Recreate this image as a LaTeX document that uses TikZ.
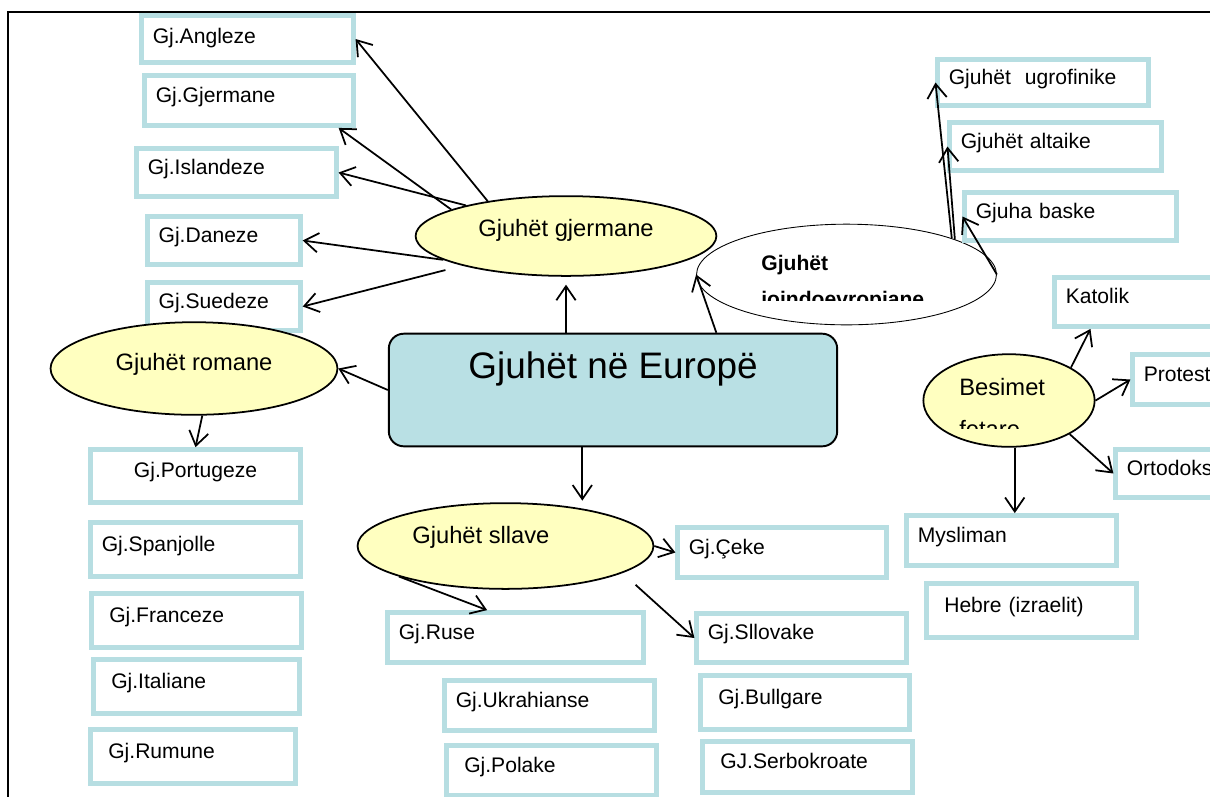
\documentclass[tikz,border=0pt]{standalone}
\usepackage{fontspec}
\setmainfont{Liberation Sans}
\usetikzlibrary{arrows.meta,shapes.geometric}

\definecolor{boxblue}{RGB}{183,222,226}
\definecolor{titleblue}{RGB}{185,224,228}
\definecolor{ovalyellow}{RGB}{255,255,192}

\begin{document}
\begin{tikzpicture}[x=0.02cm, y=-0.02cm,
    arrow/.style = {line width=1pt, -{Straight Barb[length=8pt,width=11pt]}},
    lang/.style = {draw=boxblue, line width=2.8pt, align=left, inner xsep=6.2pt, inner ysep=2pt,
                   text height=9pt, text depth=7pt, font=\fontsize{12}{14}\selectfont},
    langw/.style = {lang, inner xsep=9.9pt},
    oval/.style = {ellipse, draw, line width=1pt, fill=ovalyellow, inner sep=0pt,
                   font=\fontsize{13.5}{16}\selectfont},
    ovaltext/.style = {anchor=base west, inner sep=0pt, font=\fontsize{13.5}{16}\selectfont}]
    \useasboundingbox (0,0) rectangle (1210,796);
    \clip (0,0) rectangle (1210,796);

    % frame
    \draw[line width=0.9pt] (1240,12) -- (8,12) -- (8,820);

    % centre
    \node[draw, line width=1.1pt, fill=titleblue, rounded corners=8.5pt, minimum width=255.2pt, minimum height=64.1pt,
          inner sep=2pt, text height=16pt, text depth=29.6pt, font=\fontsize{21}{25}\selectfont] (euro) at (613,390) {Gjuhët në Europë};

    % germanic
    \node[oval, minimum width=171.2pt, minimum height=45.4pt, text height=7pt, text depth=7pt] (gjerm) at (566,236) {Gjuhët gjermane};
    \node[lang, text width=107.8pt, minimum height=26.6pt, text height=10.5pt, text depth=5.5pt] (angl) at (247.5,39) {Gj.Angleze};
    \node[lang, text width=106.1pt, minimum height=28.4pt] (gjer) at (249,100.5) {Gj.Gjermane};
    \node[lang, text width=101pt, minimum height=27.2pt] (isla) at (236.5,172.5) {Gj.Islandeze};
    \node[lang, text width=74.4pt, minimum height=27.2pt] (dane) at (224,240.5) {Gj.Daneze};
    \node[lang, text width=74.4pt, minimum height=27.2pt] (sued) at (224,306.5) {Gj.Suedeze};

    % romance
    \node[oval, minimum width=163.3pt, minimum height=52.7pt, text height=8.4pt, text depth=5.6pt] (roman) at (194,368.5) {Gjuhët romane};
    \node[lang, align=center, text width=106.7pt, minimum height=30pt] (port) at (195.5,476) {Gj.Portugeze};
    \node[lang, text width=106.7pt, minimum height=30.6pt] (span) at (195.5,549.5) {Gj.Spanjolle};
    \node[langw, text width=99.3pt, minimum height=30.6pt] (fran) at (196.5,620.5) {Gj.Franceze};
    \node[langw, text width=97pt, minimum height=30.6pt] (ital) at (196.5,686.5) {Gj.Italiane};
    \node[langw, text width=96.4pt, minimum height=30.6pt] (rumu) at (193,756.5) {Gj.Rumune};

    % slavic
    \node[oval, minimum width=168.4pt, minimum height=48.8pt] (sllave) at (505.5,546) {};
    \node[ovaltext] (sllave-t) at (412,543) {Gjuhët sllave};
    \node[lang, text width=106.1pt, minimum height=28.4pt] (ceke) at (782,552.5) {Gj.Çeke};
    \node[lang, text width=132.8pt, minimum height=28.4pt] (ruse) at (515.5,637.5) {Gj.Ruse};
    \node[lang, text width=106.7pt, minimum height=27.8pt] (sllo) at (801.5,638) {Gj.Sllovake};
    \node[lang, text width=106.7pt, minimum height=28.4pt] (ukra) at (549.5,705.5) {Gj.Ukrahianse};
    \node[langw, text width=98.7pt, minimum height=30.6pt] (bull) at (805,702.5) {Gj.Bullgare};
    \node[langw, text width=99.3pt, minimum height=28.4pt] (pola) at (551.5,770.5) {Gj.Polake};
    \node[langw, text width=99.3pt, minimum height=28.9pt] (serb) at (807.5,767) {GJ.Serbokroate};

    % non indo-european
    \node[ellipse, draw, line width=0.5pt, fill=white, minimum width=170.7pt, minimum height=57.3pt] (joindo) at (846.5,274.5) {};
    \node[ovaltext, font=\fontsize{12}{14}\selectfont\bfseries] (joindo-t) at (761,270) {Gjuhët};
    \begin{scope}
        \clip (700,200) rectangle (1000,300);
        \node[ovaltext, font=\fontsize{12}{14}\selectfont\bfseries] (joindo-t2) at (761,306) {joindoevropiane};
    \end{scope}
    \node[lang, text width=107.2pt, minimum height=26.1pt] (ugro) at (1043,82.5) {Gjuhët~ ugrofinike};
    \node[lang, text width=107.8pt, minimum height=27.2pt] (alta) at (1055.5,146.5) {Gjuhët altaike};
    \node[lang, text width=107.8pt, minimum height=27.2pt] (bask) at (1070.5,216.5) {Gjuha baske};

    % religions
    \node[oval, minimum width=97.5pt, minimum height=52.7pt] (besim) at (1009,400.5) {};
    \node[ovaltext] (besim-t) at (959,395) {Besimet};
    \begin{scope}
        \clip (930,400) rectangle (1090,428);
        \node[ovaltext] (besim-t2) at (959,437) {fetare};
    \end{scope}
    \node[lang, text width=107.8pt, minimum height=27.8pt] (kato) at (1160.5,302) {Katolik};
    \node[lang, text width=107.8pt, minimum height=28.4pt] (prot) at (1238.5,379.5) {Protestant};
    \node[lang, text width=107.8pt, minimum height=27.2pt] (orto) at (1221.5,473.5) {Ortodoks};
    \node[lang, text width=106.7pt, minimum height=28.4pt] (mysl) at (1011.5,540.5) {Mysliman};
    \node[langw, text width=99.3pt, minimum height=30.6pt] (hebr) at (1031.5,610.5) {Hebre (izraelit)};

    % arrows
    \draw[arrow, shorten >=4.5pt] (euro.north -| gjerm.south) -- (gjerm.south);
    \draw[arrow] (euro.29) -- (joindo.west);
    \draw[arrow] (euro.west) -- (roman.east);
    \draw[arrow, shorten >=4.5pt] (euro.south -| sllave.26) -- (sllave.26);

    \draw[arrow] (gjerm.156) -- (angl.east);
    \draw[arrow] (gjerm.167) -- (gjer.-17);
    \draw[arrow] (gjerm.163) -- (isla.east);
    \draw[arrow] (gjerm.191) -- (dane.east);
    \draw[arrow, shorten <=10pt] (gjerm.196) -- (sued.east);

    \draw[arrow] (roman.-80) -- (port.north);

    \draw[arrow] (sllave.east) -- (ceke.west);
    \draw[arrow] (sllave.196) -- (ruse.136);
    \draw[arrow, shorten <=10pt] (sllave.-13) -- (sllo.west);

    \draw[arrow] (joindo.19) -- (ugro.west);
    \draw[arrow] (joindo.18) -- (alta.west);
    \draw[arrow] (joindo.east) -- (bask.west);

    \draw[arrow] (besim.28) -- (kato.201);
    \draw[arrow] (besim.east) -- (prot.west);
    \draw[arrow] (besim.-29) -- (orto.west);
    \draw[arrow] (besim.-83) -- (besim.-83 |- mysl.north);
\end{tikzpicture}
\end{document}
